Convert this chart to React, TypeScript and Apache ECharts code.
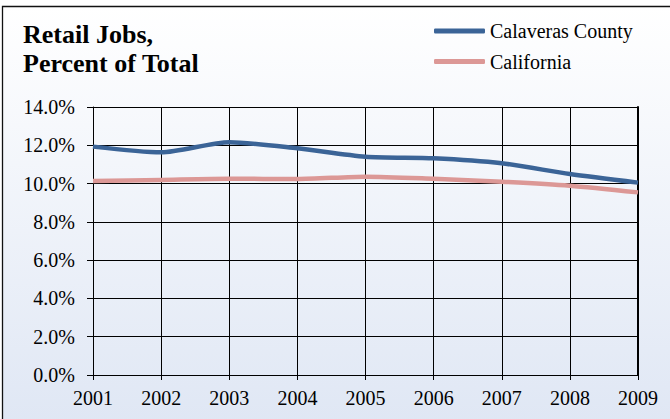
import React, { useEffect, useRef } from "react";
import * as echarts from "echarts";

const years = ["2001", "2002", "2003", "2004", "2005", "2006", "2007", "2008", "2009"];
const calaveras = [11.93, 11.63, 12.16, 11.84, 11.4, 11.32, 11.06, 10.5, 10.05];
const california = [10.13, 10.19, 10.25, 10.24, 10.36, 10.25, 10.1, 9.89, 9.54];
const seriesNames = ["Calaveras County", "California"];
const titleLines = ["Retail Jobs,", "Percent of Total"];

const FONT = "Times New Roman, Liberation Serif, serif";

export default function App() {
  const ref = useRef<HTMLDivElement>(null);
  useEffect(() => {
    if (!ref.current) return;
    const chart = echarts.init(ref.current, undefined, { renderer: "svg" });
    chart.setOption({
      animation: false,
      textStyle: { fontFamily: FONT },
      graphic: [
        {
          type: "rect",
          z: -10,
          silent: true,
          shape: { x: 2.5, y: 6.5, width: 700, height: 500 },
          style: {
            fill: new echarts.graphic.LinearGradient(0, 0, 0, 1, [
              { offset: 0, color: "#ffffff" },
              { offset: 1, color: "#d9e2f2" },
            ]),
            stroke: "#111",
            lineWidth: 1.3,
          },
        },
      ],
      title: {
        text: titleLines.join("\n"),
        left: 23,
        top: 20,
        padding: 0,
        textStyle: {
          fontFamily: FONT,
          fontWeight: "bold",
          fontSize: 26,
          lineHeight: 29,
          color: "#000",
        },
      },
      legend: {
        orient: "vertical",
        left: 434,
        top: 21,
        padding: 0,
        itemGap: 10.5,
        itemWidth: 51,
        itemHeight: 5,
        icon: "roundRect",
        data: seriesNames,
        textStyle: { fontFamily: FONT, fontSize: 20, color: "#000" },
      },
      grid: { left: 93, right: 32, top: 107, bottom: 44 },
      xAxis: {
        type: "category",
        data: years,
        boundaryGap: false,
        axisLine: { lineStyle: { color: "#000", width: 1 } },
        axisTick: { show: true, length: 5, lineStyle: { color: "#000" } },
        axisLabel: { fontFamily: FONT, fontSize: 20, color: "#000", margin: 13 },
        splitLine: { show: true, lineStyle: { color: "#000", width: 1 } },
      },
      yAxis: [
        {
          type: "value",
          min: 0,
          max: 14,
          interval: 2,
          axisLine: { show: true, lineStyle: { color: "#000", width: 1 } },
          axisTick: { show: true, length: 6, lineStyle: { color: "#000" } },
          axisLabel: {
            fontFamily: FONT,
            fontSize: 20,
            color: "#000",
            margin: 18,
            formatter: (v: number) => v.toFixed(1) + "%",
          },
          splitLine: { show: true, lineStyle: { color: "#000", width: 1 } },
        },
        {
          type: "value",
          min: 0,
          max: 14,
          interval: 2,
          position: "right",
          axisLine: { show: true, lineStyle: { color: "#000", width: 2 } },
          axisTick: { show: false },
          axisLabel: { show: false },
          splitLine: { show: false },
        },
      ],
      series: [
        {
          name: seriesNames[0],
          type: "line",
          data: calaveras,
          smooth: 0.25,
          showSymbol: false,
          symbol: "none",
          lineStyle: { color: "#3b6497", width: 4.5 },
          itemStyle: { color: "#3b6497" },
          z: 3,
        },
        {
          name: seriesNames[1],
          type: "line",
          data: california,
          smooth: 0.25,
          showSymbol: false,
          symbol: "none",
          lineStyle: { color: "#dc9896", width: 4.5 },
          itemStyle: { color: "#dc9896" },
          z: 2,
        },
      ],
    });
    return () => chart.dispose();
  }, []);
  return (
    <div
      ref={ref}
      style={{ position: "fixed", left: 0, top: 0, width: 670, height: 419, background: "#fff" }}
    />
  );
}
